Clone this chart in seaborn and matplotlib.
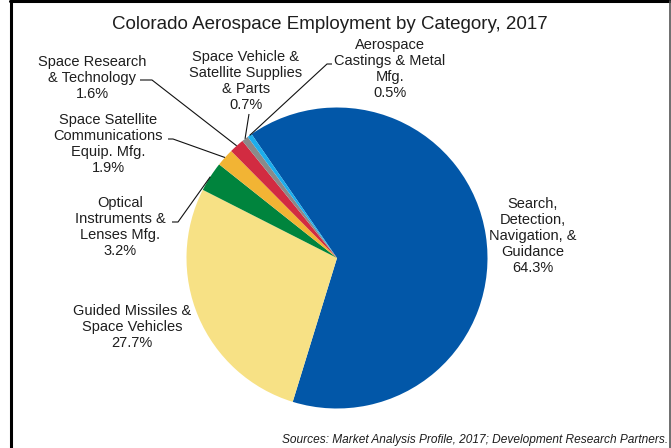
import numpy as np
import matplotlib
matplotlib.use("Agg")
import matplotlib.pyplot as plt
from matplotlib.lines import Line2D
import seaborn as sns

# ---- data ----
categories = [
    "Search,\nDetection,\nNavigation, &\nGuidance",
    "Guided Missiles &\nSpace Vehicles",
    "Optical\nInstruments &\nLenses Mfg.",
    "Space Satellite\nCommunications\nEquip. Mfg.",
    "Space Research\n& Technology",
    "Space Vehicle &\nSatellite Supplies\n& Parts",
    "Aerospace\nCastings & Metal\nMfg.",
]
shares = [64.3, 27.7, 3.2, 1.9, 1.6, 0.7, 0.5]
colors = ["#0257A8", "#F7E185", "#00843D", "#F2B434", "#D22B41", "#8A8A8A", "#1CAEEC"]
title = "Colorado Aerospace Employment by Category, 2017"
source = "Sources: Market Analysis Profile, 2017; Development Research Partners."

# ---- style ----
sns.set_theme(style="white")
plt.rcParams["font.family"] = ["Liberation Sans", "DejaVu Sans"]
palette = sns.color_palette(colors)

W, H = 671, 448
fig = plt.figure(figsize=(W / 100, H / 100), dpi=100)
ax = fig.add_axes([0, 0, 1, 1])

cx, cy, R = 337, H - 258, 150.5
wedges, _ = ax.pie(shares, colors=palette, startangle=124.6, counterclock=False,
                   center=(cx, cy), radius=R, wedgeprops=dict(linewidth=0))
ax.set_xlim(0, W)
ax.set_ylim(0, H)
ax.set_aspect("auto")
ax.axis("off")

txt_color = "#1e1e1e"
# label centres (px from left, px from top)
label_pos = [(533, 236), (132, 327), (120, 227), (108, 144), (92, 78), (246, 81), (390, 69)]
# leader-line elbows near the labels (px from top)
leaders = {
    2: [(172, 222), (178, 222)],
    3: [(168, 139), (173, 139)],
    4: [(140, 80), (152, 80)],
    5: [(249, 114)],
    6: [(332, 64), (327, 64)],
}

for i, (cat, v) in enumerate(zip(categories, shares)):
    x, y = label_pos[i]
    ax.text(x, H - y, f"{cat}\n{v:.1f}%", ha="center", va="center",
            multialignment="center", fontsize=10.5, color=txt_color, linespacing=1.2)
    if i in leaders:
        w = wedges[i]
        mid = np.deg2rad((w.theta1 + w.theta2) / 2)
        ex, ey = cx + R * np.cos(mid), cy + R * np.sin(mid)
        pts = [(px, H - py) for px, py in leaders[i]] + [(ex, ey)]
        xs, ys = zip(*pts)
        ax.plot(xs, ys, color="#111111", lw=0.8, solid_capstyle="butt")

ax.text(330, H - 24, title, ha="center", va="center", fontsize=13.5, color=txt_color)
ax.text(668, H - 440, source, ha="right", va="center", fontsize=8.6,
        style="italic", color=txt_color)

# frame
fig.add_artist(Line2D([11 / W, 11 / W], [0, 1 - 1.5 / H], transform=fig.transFigure,
                      color="black", lw=2.2))
fig.add_artist(Line2D([10 / W, 670 / W], [1 - 1.5 / H, 1 - 1.5 / H], transform=fig.transFigure,
                      color="black", lw=2.2))
fig.add_artist(Line2D([669.8 / W, 669.8 / W], [0, 1 - 1.5 / H], transform=fig.transFigure,
                      color="#555555", lw=1.2))

fig.savefig("out.png", dpi=100)
